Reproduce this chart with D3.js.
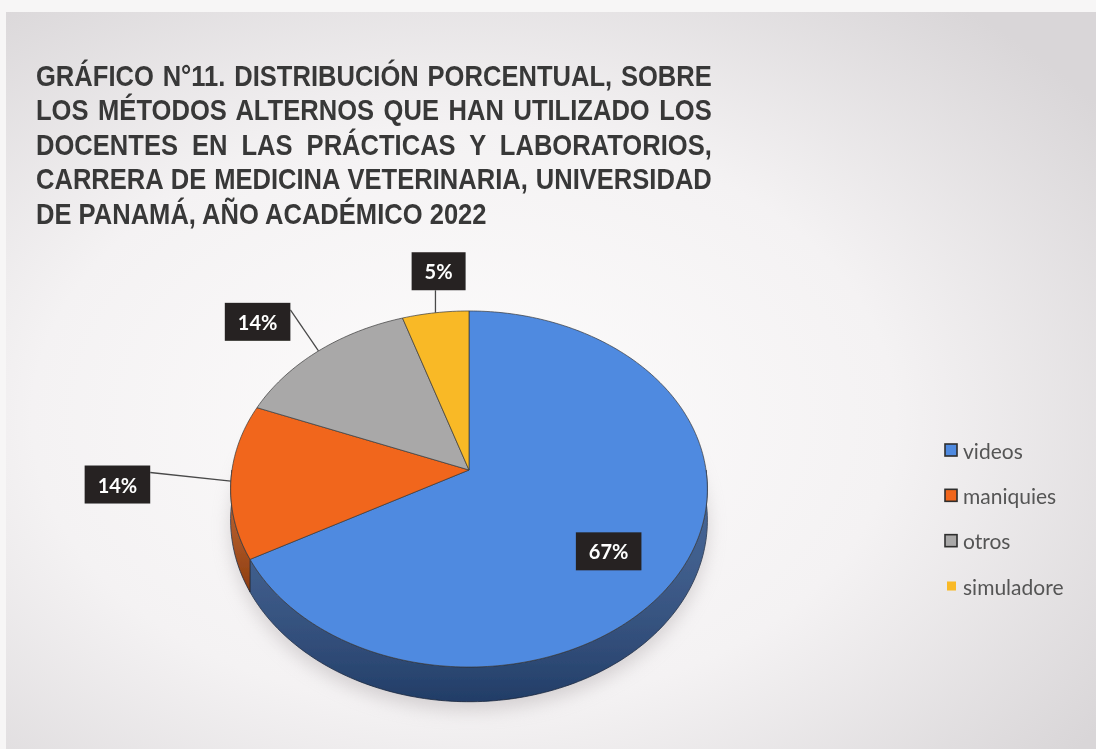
<!DOCTYPE html>
<html>
<head>
<meta charset="utf-8">
<script src="https://cdn.jsdelivr.net/npm/d3@7"></script>
<style>
  body { margin: 0; background: #f4f2f3; }
  svg { display: block; }
</style>
</head>
<body>
<svg id="chart" width="1096" height="749"></svg>
<script>
// ---------------------------------------------------------------------------
// Dati del grafico
// ---------------------------------------------------------------------------
const titleLines = [
  "GRÁFICO N°11. DISTRIBUCIÓN PORCENTUAL, SOBRE",
  "LOS MÉTODOS ALTERNOS QUE HAN UTILIZADO LOS",
  "DOCENTES EN LAS PRÁCTICAS Y LABORATORIOS,",
  "CARRERA DE MEDICINA VETERINARIA, UNIVERSIDAD",
  "DE PANAMÁ, AÑO ACADÉMICO 2022"
];
const categories = ["videos", "maniquies", "otros", "simuladore"];
const percents = [67, 14, 14, 5];

// colori delle fette (faccia superiore e lato)
const topColors = ["#508ae0", "#f1661b", "#a9a8a8", "#f9b925"];
const sideColors = ["#2d5189", "#b84e12", "#767676", "#b8861a"];

// posizione delle etichette: raggio relativo e piccolo spostamento
const labelRadius = [0.66, 1.48, 1.45, 1.3];
const labelShiftY = [20, -2, 19, 0];
const labelShiftX = [0, 2, 0, 12];

const width = 1096, height = 749;
const svg = d3.select("#chart");

// ---------------------------------------------------------------------------
// Sfondo (foto di una diapositiva)
// ---------------------------------------------------------------------------
const defs = svg.append("defs");
const bg = defs.append("radialGradient").attr("id", "bg")
  .attr("cx", "42%").attr("cy", "55%").attr("r", "72%");
bg.append("stop").attr("offset", "0%").attr("stop-color", "#fdfcfc");
bg.append("stop").attr("offset", "55%").attr("stop-color", "#f4f2f3");
bg.append("stop").attr("offset", "100%").attr("stop-color", "#d9d6d8");

// ombreggiatura del lato: più scuro verso il basso
const sideShade = defs.append("linearGradient").attr("id", "sideShade")
  .attr("x1", 0).attr("y1", 0).attr("x2", 0).attr("y2", 1);
sideShade.append("stop").attr("offset", "0%").attr("stop-color", "#ffffff").attr("stop-opacity", 0.12);
sideShade.append("stop").attr("offset", "100%").attr("stop-color", "#000000").attr("stop-opacity", 0.25);

defs.append("filter").attr("id", "shadow")
  .attr("x", "-20%").attr("y", "-20%").attr("width", "140%").attr("height", "140%")
  .append("feGaussianBlur").attr("stdDeviation", 9);
defs.append("filter").attr("id", "soft")
  .append("feGaussianBlur").attr("stdDeviation", 0.45);

svg.append("rect").attr("width", width).attr("height", height).attr("fill", "#f7f6f6");
svg.append("rect").attr("x", 6).attr("y", 12).attr("width", width - 6).attr("height", height - 12)
  .attr("fill", "url(#bg)");

// ---------------------------------------------------------------------------
// Torta 3D in prospettiva
// ---------------------------------------------------------------------------
const cx = 469, cy = 470;   // centro della torta (punto di convergenza)
const A = 237, B = 176;     // semiassi prima della prospettiva
const k = 0.1067;           // fattore di prospettiva
const depth = 31;           // spessore

// angolo (da mezzogiorno, orario), raggio relativo, abbassamento
function proj(a, r, drop) {
  const u = r * Math.sin(a), v = -r * Math.cos(a);
  const w = 1 - k * v;
  return [cx + A * u / w, cy + (B * v + drop) / w];
}

function arcPoints(a0, a1, drop) {
  const n = Math.max(2, Math.ceil((a1 - a0) / 0.02));
  return d3.range(n + 1).map(i => proj(a0 + (a1 - a0) * i / n, 1, drop));
}

const pie = d3.pie().sort(null).value(d => d)(percents);
const line = d3.line();

// ombra sotto la torta
svg.append("path")
  .attr("d", line(arcPoints(0, 2 * Math.PI, depth + 8)) + "Z")
  .attr("fill", "#b9b3b5")
  .attr("opacity", 0.55)
  .attr("filter", "url(#shadow)");

const pieG = svg.append("g").attr("filter", "url(#soft)");

// lati visibili (metà anteriore)
pie.forEach((d, i) => {
  const a0 = Math.max(d.startAngle, Math.PI / 2);
  const a1 = Math.min(d.endAngle, 3 * Math.PI / 2);
  if (a1 <= a0) return;
  const pts = arcPoints(a0, a1, 0).concat(arcPoints(a0, a1, depth).reverse());
  const p = line(pts) + "Z";
  pieG.append("path")
    .attr("d", p)
    .attr("fill", sideColors[i])
    .attr("stroke", "#1f2f48")
    .attr("stroke-width", 0.8);
  pieG.append("path")
    .attr("d", p)
    .attr("fill", "url(#sideShade)");
});

// facce superiori
pie.forEach((d, i) => {
  const pts = [proj(0, 0, 0)].concat(arcPoints(d.startAngle, d.endAngle, 0));
  pieG.append("path")
    .attr("d", line(pts) + "Z")
    .attr("fill", topColors[i])
    .attr("stroke", "#3a3a3a")
    .attr("stroke-opacity", 0.7)
    .attr("stroke-width", 1);
});

// ---------------------------------------------------------------------------
// Etichette con linee guida
// ---------------------------------------------------------------------------
const labelG = svg.append("g").attr("filter", "url(#soft)");
pie.forEach((d, i) => {
  const mid = (d.startAngle + d.endAngle) / 2;
  const [lx0, ly0] = proj(mid, labelRadius[i], 0);
  const lx = lx0 + labelShiftX[i], ly = ly0 + labelShiftY[i];

  const g = labelG.append("g");
  const txt = g.append("text")
    .attr("x", lx).attr("y", ly)
    .attr("text-anchor", "middle")
    .attr("dominant-baseline", "central")
    .style("font-family", "Lato, 'Open Sans', sans-serif")
    .style("font-weight", "bold")
    .style("font-size", "20px")
    .style("fill", "#ffffff")
    .text(percents[i] + "%");
  const tw = txt.node().getComputedTextLength();
  const bw = tw + 26, bh = 38;
  g.insert("rect", "text")
    .attr("x", lx - bw / 2).attr("y", ly - bh / 2)
    .attr("width", bw).attr("height", bh)
    .attr("fill", "#262423");

  if (labelRadius[i] > 1) {
    const [px, py] = proj(mid, 1, 0);
    let sx, sy;
    if (py > ly + bh / 2 && Math.abs(px - lx) < bw / 2) {
      sx = px; sy = ly + bh / 2;
    } else {
      sx = lx + bw / 2; sy = ly - bh / 2 + 7;
    }
    labelG.append("line")
      .attr("x1", sx).attr("y1", sy).attr("x2", px).attr("y2", py)
      .attr("stroke", "#4a4a4a").attr("stroke-width", 1.3);
  }
});

// ---------------------------------------------------------------------------
// Legenda
// ---------------------------------------------------------------------------
const legendY = d3.scalePoint().domain(categories).range([450, 586]);
const legend = svg.append("g").attr("filter", "url(#soft)");
categories.forEach((c, i) => {
  const y = legendY(c);
  const last = i === categories.length - 1;
  const s = last ? 9 : 12;
  legend.append("rect")
    .attr("x", 945 + (last ? 2 : 0)).attr("y", y - s / 2)
    .attr("width", s).attr("height", s)
    .attr("fill", topColors[i])
    .attr("stroke", last ? "none" : "#2e2e2e")
    .attr("stroke-width", 1.6);
  legend.append("text")
    .attr("x", 963).attr("y", y)
    .attr("dominant-baseline", "central")
    .style("font-family", "Lato, 'Open Sans', sans-serif")
    .style("font-size", "21px")
    .style("fill", "#555555")
    .text(c);
});

// ---------------------------------------------------------------------------
// Titolo giustificato e condensato
// ---------------------------------------------------------------------------
const titleX = 36, titleRight = 712;
const titleG = svg.append("g").attr("filter", "url(#soft)");
const tl = titleG.selectAll("text").data(titleLines).enter().append("text")
  .attr("x", 0).attr("y", (d, i) => 86 + i * 34.5)
  .style("font-family", "'Liberation Sans', Arial, sans-serif")
  .style("font-weight", "bold")
  .style("font-size", "30px")
  .style("fill", "#383838")
  .text(d => d);

const nodes = tl.nodes();
const widths = nodes.map(n => n.getComputedTextLength());
// compressione orizzontale: la riga più lunga deve stare nella larghezza
const sx = d3.min(widths.slice(0, -1), w => (titleRight - titleX) / w) * 0.995;
titleG.attr("transform", `translate(${titleX},0) scale(${sx},1)`);
nodes.forEach((n, i) => {
  if (i === nodes.length - 1) return;
  const spaces = titleLines[i].split(" ").length - 1;
  const target = (titleRight - titleX) / sx;
  d3.select(n).attr("word-spacing", (target - widths[i]) / spaces);
});
</script>
</body>
</html>
